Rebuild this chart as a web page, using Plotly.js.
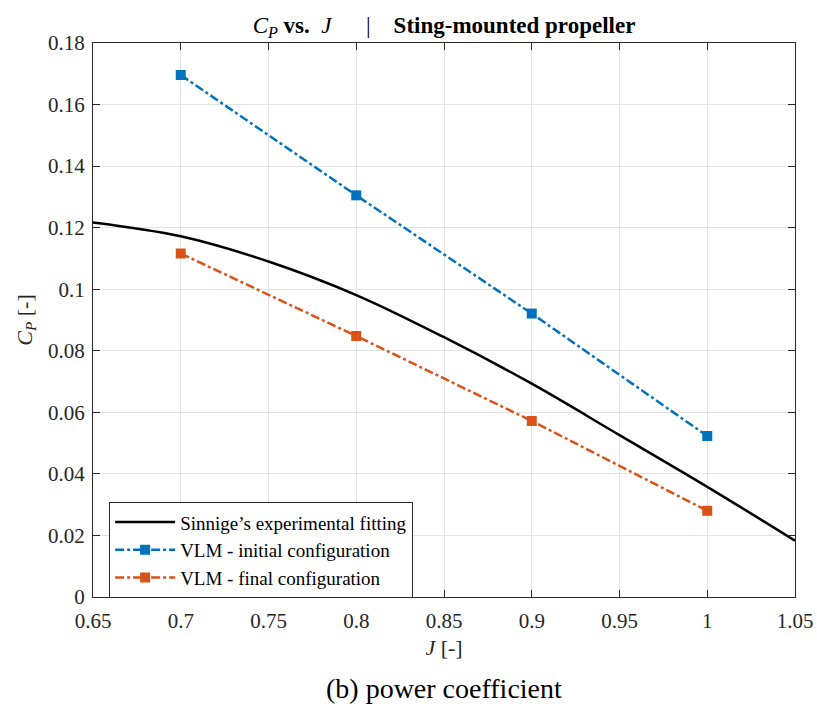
<!DOCTYPE html>
<html>
<head>
<meta charset="utf-8">
<script src="https://cdn.plot.ly/plotly-3.0.1.min.js"></script>
<style>html,body{margin:0;padding:0;background:#fff;}#chart{width:817px;height:708px;}</style>
</head>
<body>
<div id="chart"></div>
<script>
// Sinnige's experimental fitting
const fitJ  = [0.65, 0.70, 0.75, 0.80, 0.85, 0.90, 0.95, 1.00, 1.05];
const fitCP = [0.1217, 0.1172, 0.1090, 0.0981, 0.0844, 0.0693, 0.0526, 0.0358, 0.0183];
// VLM results
const vlmJ = [0.7, 0.8, 0.9, 1.0];
const vlmInitialCP = [0.1696, 0.1305, 0.0921, 0.0523];
const vlmFinalCP   = [0.1116, 0.0848, 0.0572, 0.0280];

const xTickVals = [0.65, 0.7, 0.75, 0.8, 0.85, 0.9, 0.95, 1, 1.05];
const xTickText = ["0.65","0.7","0.75","0.8","0.85","0.9","0.95","1","1.05"];
const yTickVals = [0, 0.02, 0.04, 0.06, 0.08, 0.1, 0.12, 0.14, 0.16, 0.18];
const yTickText = ["0","0.02","0.04","0.06","0.08","0.1","0.12","0.14","0.16","0.18"];

const serif = "Liberation Serif, DejaVu Serif, serif";

const traces = [
  {x: fitJ, y: fitCP, mode: 'lines', name: "Sinnige’s experimental fitting",
   line: {color: '#000000', width: 2.5, shape: 'spline', smoothing: 1}},
  {x: vlmJ, y: vlmInitialCP, mode: 'lines+markers', name: 'VLM - initial configuration',
   line: {color: '#0072BD', width: 2.5, dash: 'dashdot'},
   marker: {symbol: 'square', size: 10, color: '#0072BD'}},
  {x: vlmJ, y: vlmFinalCP, mode: 'lines+markers', name: 'VLM - final configuration',
   line: {color: '#D95319', width: 2.5, dash: 'dashdot'},
   marker: {symbol: 'square', size: 10, color: '#D95319'}}
];

const axisCommon = {
  showline: true, linecolor: '#262626', linewidth: 1, mirror: 'ticks',
  ticks: 'inside', ticklen: 7, tickcolor: '#262626', tickwidth: 1,
  showgrid: true, gridcolor: '#e3e3e3', gridwidth: 1, zeroline: false,
  tickfont: {family: serif, size: 21, color: '#262626'}
};

const layout = {
  width: 817, height: 708,
  margin: {l: 93, r: 22, t: 43, b: 111},
  paper_bgcolor: '#ffffff', plot_bgcolor: '#ffffff',
  showlegend: true,
  title: {text: "<i>C</i><sub><i>P</i></sub> <b>vs.</b>  <i>J</i>      |    <b>Sting-mounted propeller</b>",
          font: {family: serif, size: 23, color: '#000'}, xref: 'paper', x: 0.5, xanchor: 'center',
          yref: 'container', y: 0.965, yanchor: 'middle'},
  xaxis: Object.assign({}, axisCommon, {
    range: [0.65, 1.05], tickvals: xTickVals, ticktext: xTickText, ticklabelstandoff: 5,
    title: {text: "<i>J</i> [-]", font: {family: serif, size: 22, color: '#262626'}, standoff: 7}
  }),
  yaxis: Object.assign({}, axisCommon, {
    range: [0, 0.18], tickvals: yTickVals, ticktext: yTickText, ticklabelstandoff: 3,
    title: {text: "<i>C</i><sub><i>P</i></sub> [-]", font: {family: serif, size: 22, color: '#262626'}, standoff: 9}
  }),
  legend: {x: 0.023, y: 0.171, xanchor: 'left', yanchor: 'top',
           bgcolor: '#ffffff', bordercolor: '#262626', borderwidth: 1,
           font: {family: serif, size: 19, color: '#000'}, itemwidth: 60, tracegroupgap: 0},
  annotations: [{
    text: "(b) power coefficient", xref: 'paper', yref: 'paper', x: 0.5, y: -0.165,
    xanchor: 'center', yanchor: 'middle', showarrow: false,
    font: {family: "Liberation Serif, DejaVu Serif, serif", size: 28, color: '#000'}
  }]
};

Plotly.newPlot('chart', traces, layout, {displayModeBar: false, staticPlot: true});
</script>
</body>
</html>
